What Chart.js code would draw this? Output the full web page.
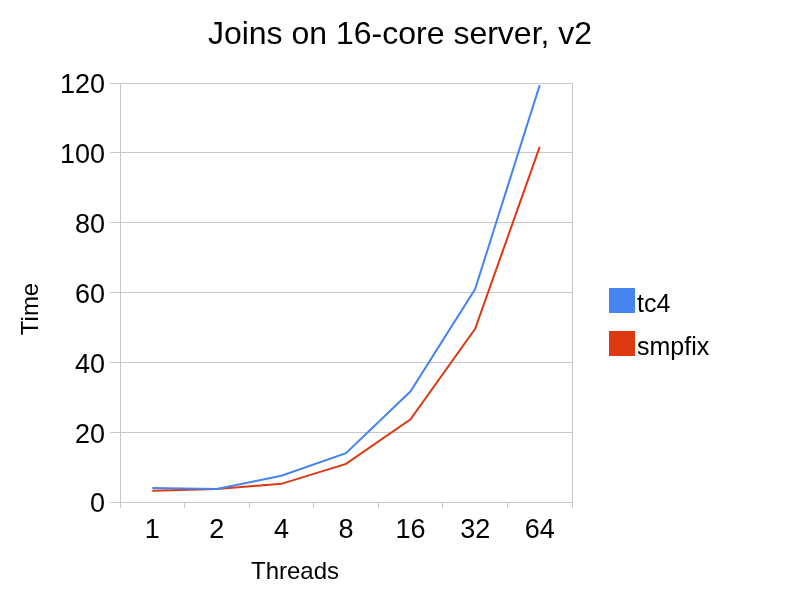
<!DOCTYPE html>
<html><head><meta charset="utf-8">
<script src="https://cdn.jsdelivr.net/npm/chart.js@4"></script>
<style>
html,body{margin:0;padding:0;background:#fff;}
#wrap{position:relative;width:800px;height:600px;}
#legend{position:absolute;left:609px;top:288px;font-family:'Liberation Sans',Arial,sans-serif;font-size:25px;color:#000;}
.item{position:absolute;left:0;width:140px;height:26px;}
.box{position:absolute;left:0;top:0;width:26px;height:25px;}
.lbl{position:absolute;left:28px;top:3px;line-height:25px;white-space:nowrap;}
</style></head><body>
<div id="wrap"><canvas id="c" width="800" height="600"></canvas><div id="legend"></div></div>
<script>
const chartTitle = 'Joins on 16-core server, v2';
const xTitle = 'Threads';
const yTitle = 'Time';
const categories = ['1', '2', '4', '8', '16', '32', '64'];
const seriesNames = ['tc4', 'smpfix'];
const seriesColors = ['#4684ee', '#dc3912'];
const tc4 = [4.0, 3.7, 7.5, 14.0, 31.7, 61.0, 119.4];
const smpfix = [3.2, 3.7, 5.2, 10.9, 23.7, 49.6, 101.7];
const yTicks = [0, 20, 40, 60, 80, 100, 120];

Chart.defaults.font.family = "'Liberation Sans', Arial, sans-serif";
Chart.defaults.color = '#000';

const gridColor = '#c8c8c8';

const axisTitles = {
  id: 'axisTitles',
  afterDraw(chart) {
    const ctx = chart.ctx;
    ctx.save();
    ctx.fillStyle = '#000';
    ctx.font = "24px 'Liberation Sans', Arial, sans-serif";
    ctx.textAlign = 'center';
    ctx.textBaseline = 'middle';
    ctx.fillText(xTitle, 295, 572);
    ctx.translate(31, 309);
    ctx.rotate(-Math.PI / 2);
    ctx.fillText(yTitle, 0, 0);
    ctx.restore();
  }
};

const chart = new Chart(document.getElementById('c'), {
  type: 'line',
  data: {
    labels: categories,
    datasets: [
      { label: seriesNames[0], data: tc4, borderColor: seriesColors[0], backgroundColor: seriesColors[0], borderWidth: 2, pointRadius: 0, tension: 0, fill: false },
      { label: seriesNames[1], data: smpfix, borderColor: seriesColors[1], backgroundColor: seriesColors[1], borderWidth: 2, pointRadius: 0, tension: 0, fill: false }
    ]
  },
  options: {
    responsive: false,
    animation: false,
    devicePixelRatio: 1,
    layout: { padding: 0 },
    plugins: {
      legend: { display: false },
      tooltip: { enabled: false },
      title: {
        display: true,
        text: chartTitle,
        color: '#000',
        font: { size: 32, weight: 'normal' },
        padding: { top: 16.3, bottom: 28.3 }
      }
    },
    scales: {
      x: {
        offset: true,
        grid: { offset: true, drawOnChartArea: false, color: gridColor, tickLength: 6 },
        border: { color: gridColor },
        ticks: { font: { size: 27 }, color: '#000', padding: 6, maxRotation: 0, autoSkip: false },
        afterFit(s) { s.height = 98; }
      },
      y: {
        min: 0, max: 120,
        afterBuildTicks(s) { s.ticks = yTicks.map(v => ({ value: v })); },
        grid: { color: gridColor, tickLength: 10 },
        border: { color: gridColor },
        ticks: { font: { size: 27 }, color: '#000', padding: 5, labelOffset: 3 },
        afterFit(s) { s.width = 120; }
      },
      y2: {
        position: 'right',
        min: 0, max: 120,
        grid: { drawOnChartArea: false, drawTicks: false },
        border: { color: gridColor, display: true },
        ticks: { display: false },
        afterFit(s) { s.width = 228; }
      }
    }
  },
  plugins: [axisTitles]
});

// HTML legend built from the chart's datasets
const legendEl = document.getElementById('legend');
chart.data.datasets.forEach((ds, i) => {
  const item = document.createElement('div');
  item.className = 'item';
  item.style.top = (i * 43.4) + 'px';
  const box = document.createElement('span');
  box.className = 'box';
  box.style.background = ds.borderColor;
  const lbl = document.createElement('span');
  lbl.className = 'lbl';
  lbl.textContent = ds.label;
  item.appendChild(box);
  item.appendChild(lbl);
  legendEl.appendChild(item);
});
</script>
</body></html>
